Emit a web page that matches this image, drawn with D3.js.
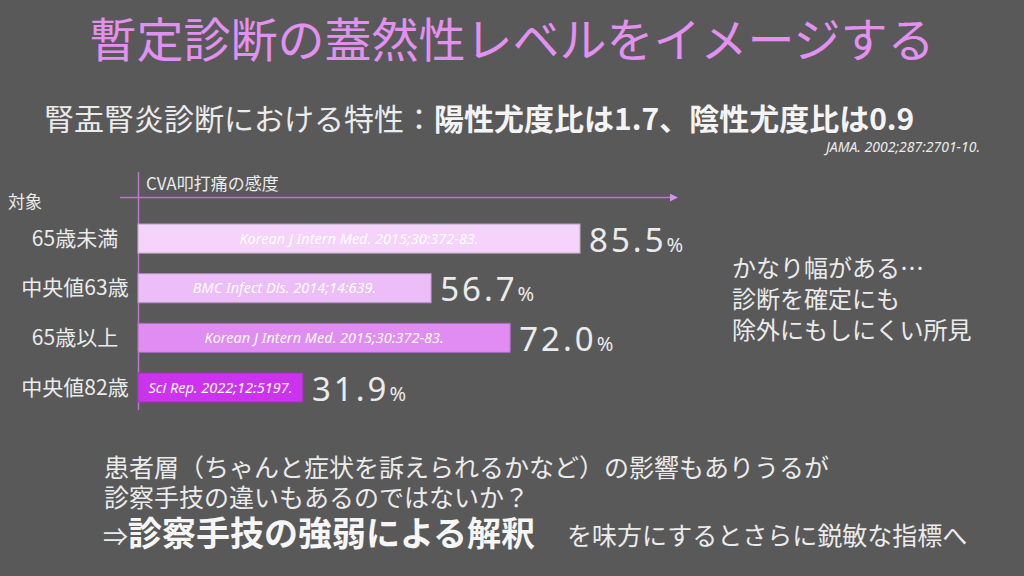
<!DOCTYPE html>
<html lang="ja">
<head>
  <meta charset="UTF-8">
  <title>暫定診断の蓋然性レベルをイメージする</title>
  <script src="https://d3js.org/d3.v7.min.js"></script>
  <style>
    html, body { margin: 0; padding: 0; background: #595959; }
    svg { display: block; font-family: "Noto Sans CJK JP", "Noto Sans", sans-serif; }
  </style>
</head>
<body>
  <div id="viz"></div>

  <script>
    // data
    const categories = ['65歳未満', '中央値63歳', '65歳以上', '中央値82歳'];
    const sensitivity = [85.5, 56.7, 72.0, 31.9];
    const sources = [
      'Korean J Intern Med. 2015;30:372-83.',
      'BMC Infect Dis. 2014;14:639.',
      'Korean J Intern Med. 2015;30:372-83.',
      'Sci Rep. 2022;12:5197.'
    ];
    const noteLines = ['かなり幅がある…', '診断を確定にも', '除外にもしにくい所見'];

    const W = 1024, H = 576;
    const textColor = '#ebebeb';
    const axisColor = '#b878cc';

    const svg = d3.select('#viz')
      .append('svg')
        .attr('width', W)
        .attr('height', H);

    svg.append('rect')
      .attr('width', W).attr('height', H)
      .attr('fill', '#595959');

    // Title
    svg.append('text')
      .attr('x', 512).attr('y', 57)
      .attr('text-anchor', 'middle')
      .attr('font-size', 47)
      .attr('fill', '#e391f1')
      .text('暫定診断の蓋然性レベルをイメージする');

    // Subtitle with bold part
    const sub = svg.append('text')
      .attr('x', 44).attr('y', 130)
      .attr('font-size', 30)
      .attr('fill', textColor);
    sub.append('tspan').text('腎盂腎炎診断における特性：');
    sub.append('tspan').attr('font-weight', 700).attr('fill', '#f4f4f4')
      .text('陽性尤度比は1.7、陰性尤度比は0.9');

    svg.append('text')
      .attr('x', 980).attr('y', 152)
      .attr('text-anchor', 'end')
      .attr('font-size', 14)
      .attr('font-style', 'italic')
      .attr('font-family', 'Noto Sans, sans-serif')
      .attr('fill', textColor)
      .text('JAMA. 2002;287:2701-10.');

    // Scales
    const x = d3.scaleLinear()
      .domain([0, 100])
      .range([138, 655]);

    const y = d3.scaleBand()
      .domain(categories)
      .range([214.1, 412])
      .paddingInner(0.414)
      .paddingOuter(0.2);

    const color = d3.scaleOrdinal()
      .domain(categories)
      .range(['#f6d3fb', '#ecbdf8', '#e08cf2', '#cc33ee']);
    const stroke = d3.scaleOrdinal()
      .domain(categories)
      .range(['#b9a9bd', '#b38fbe', '#a86cb8', '#9a36b0']);

    // Axis arrow
    svg.append('defs').append('marker')
      .attr('id', 'arrow')
      .attr('viewBox', '0 0 10 10')
      .attr('refX', 9).attr('refY', 5)
      .attr('markerWidth', 8).attr('markerHeight', 8)
      .attr('markerUnits', 'userSpaceOnUse')
      .attr('orient', 'auto')
      .append('path')
        .attr('d', 'M0,0L10,5L0,10Z')
        .attr('fill', '#d890ee');

    svg.append('line')
      .attr('x1', 120).attr('x2', 677)
      .attr('y1', 197.5).attr('y2', 197.5)
      .attr('stroke', axisColor)
      .attr('stroke-width', 1.5)
      .attr('marker-end', 'url(#arrow)');

    svg.append('line')
      .attr('x1', x(0) + 0.5).attr('x2', x(0) + 0.5)
      .attr('y1', 172).attr('y2', 410)
      .attr('stroke', axisColor)
      .attr('stroke-width', 1.5);

    svg.append('text')
      .attr('x', 146).attr('y', 190)
      .attr('font-size', 17)
      .attr('fill', textColor)
      .text('CVA叩打痛の感度');

    svg.append('text')
      .attr('x', 8).attr('y', 208)
      .attr('font-size', 17)
      .attr('fill', textColor)
      .text('対象');

    // Bars
    const rows = svg.append('g')
      .selectAll('g')
      .data(categories.map((c, i) => ({ cat: c, value: sensitivity[i], src: sources[i] })))
      .enter()
      .append('g');

    rows.append('rect')
      .attr('x', x(0))
      .attr('y', d => y(d.cat))
      .attr('width', d => x(d.value) - x(0))
      .attr('height', y.bandwidth())
      .attr('fill', d => color(d.cat))
      .attr('stroke', d => stroke(d.cat))
      .attr('stroke-width', 1);

    rows.append('text')
      .attr('x', d => (x(0) + x(d.value)) / 2)
      .attr('y', d => y(d.cat) + y.bandwidth() / 2 + 5)
      .attr('text-anchor', 'middle')
      .attr('font-size', 14.5)
      .attr('font-style', 'italic')
      .attr('font-family', 'Noto Sans, sans-serif')
      .attr('fill', '#ffffff')
      .text(d => d.src);

    rows.append('text')
      .attr('x', 75)
      .attr('y', d => y(d.cat) + y.bandwidth() / 2 + 7)
      .attr('text-anchor', 'middle')
      .attr('font-size', 21)
      .attr('fill', textColor)
      .text(d => d.cat);

    const val = rows.append('text')
      .attr('x', d => x(d.value) + 9)
      .attr('y', d => y(d.cat) + y.bandwidth() / 2 + 13)
      .attr('fill', textColor)
      .attr('font-family', 'Noto Sans, sans-serif');
    val.append('tspan')
      .attr('font-size', 33)
      .attr('letter-spacing', 3)
      .text(d => d3.format('.1f')(d.value));
    val.append('tspan')
      .attr('font-size', 20)
      .text('%');

    // Side note
    svg.append('g')
      .selectAll('text')
      .data(noteLines)
      .enter()
      .append('text')
        .attr('x', 732)
        .attr('y', (d, i) => 277 + i * 31)
        .attr('font-size', 24)
        .attr('fill', textColor)
        .text(d => d);

    // Bottom text
    svg.append('text')
      .attr('x', 104).attr('y', 477)
      .attr('font-size', 25)
      .attr('fill', textColor)
      .text('患者層（ちゃんと症状を訴えられるかなど）の影響もありうるが');

    svg.append('text')
      .attr('x', 104).attr('y', 507)
      .attr('font-size', 25)
      .attr('fill', textColor)
      .text('診察手技の違いもあるのではないか？');

    const last = svg.append('text')
      .attr('x', 103).attr('y', 546)
      .attr('fill', textColor);
    last.append('tspan')
      .attr('font-size', 25)
      .text('⇒');
    last.append('tspan')
      .attr('font-size', 34)
      .attr('font-weight', 700)
      .attr('fill', '#f6f6f6')
      .text('診察手技の強弱による解釈');

    svg.append('text')
      .attr('x', 567).attr('y', 545)
      .attr('font-size', 25)
      .attr('fill', textColor)
      .text('を味方にするとさらに鋭敏な指標へ');
  </script>
</body>
</html>
